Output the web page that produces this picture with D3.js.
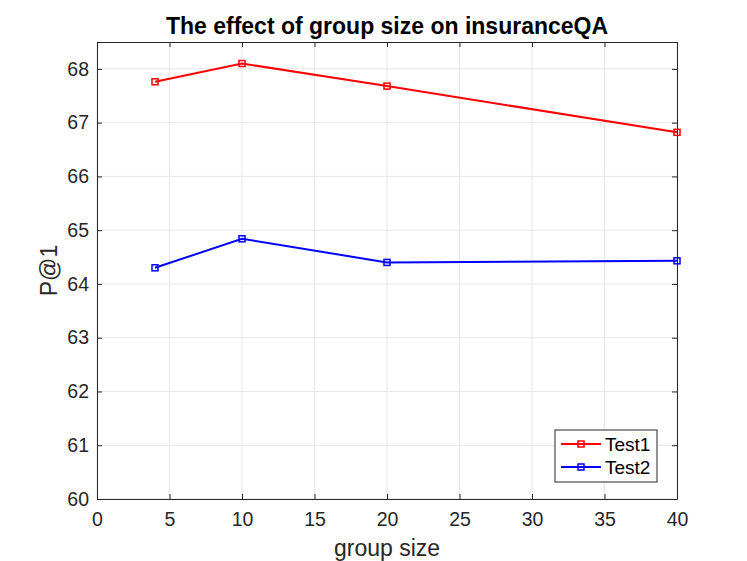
<!DOCTYPE html>
<html>
<head>
<meta charset="utf-8">
<script src="https://cdn.jsdelivr.net/npm/d3@7"></script>
<style>
  body { margin: 0; background: #fff; }
  text { font-family: "Liberation Sans", Arial, sans-serif; }
</style>
</head>
<body>
<svg id="chart" width="747" height="561"></svg>
<script>
var groupSizes = [4, 10, 20, 40];
var test1 = [67.76, 68.10, 67.68, 66.82];
var test2 = [64.30, 64.84, 64.40, 64.43];
var xTicks = [0, 5, 10, 15, 20, 25, 30, 35, 40];
var yTicks = [60, 61, 62, 63, 64, 65, 66, 67, 68];
var seriesNames = ["Test1", "Test2"];
var seriesColors = ["#ff0000", "#0000ff"];

function drawChart() {
    var svg = d3.select("#chart");
    var left = 97, right = 677, top = 42, bottom = 499;
    var axisColor = "#262626";

    var x = d3.scaleLinear().domain([0, 40]).range([left, right]);
    var y = d3.scaleLinear().domain([60, 68.5]).range([bottom, top]);

    // grid
    svg.append("g").selectAll("line").data(xTicks).enter().append("line")
        .attr("x1", function(d) { return x(d); }).attr("x2", function(d) { return x(d); })
        .attr("y1", top).attr("y2", bottom)
        .attr("stroke", "#e6e6e6").attr("stroke-width", 1);
    svg.append("g").selectAll("line").data(yTicks).enter().append("line")
        .attr("x1", left).attr("x2", right)
        .attr("y1", function(d) { return y(d); }).attr("y2", function(d) { return y(d); })
        .attr("stroke", "#e6e6e6").attr("stroke-width", 1);

    // axes
    var xAxis = d3.axisBottom(x).tickValues(xTicks).tickSizeInner(-5).tickSizeOuter(0).tickPadding(13);
    var yAxis = d3.axisLeft(y).tickValues(yTicks).tickSizeInner(-5).tickSizeOuter(0).tickPadding(8);
    var xTop = d3.axisTop(x).tickValues(xTicks).tickSizeInner(-5).tickSizeOuter(0).tickFormat("");
    var yRight = d3.axisRight(y).tickValues(yTicks).tickSizeInner(-5).tickSizeOuter(0).tickFormat("");

    var gx = svg.append("g").attr("transform", "translate(0," + bottom + ")").call(xAxis);
    var gy = svg.append("g").attr("transform", "translate(" + left + ",0)").call(yAxis);
    var gt = svg.append("g").attr("transform", "translate(0," + top + ")").call(xTop);
    var gr = svg.append("g").attr("transform", "translate(" + right + ",0)").call(yRight);

    [gx, gy, gt, gr].forEach(function(g) {
        g.selectAll("path").attr("stroke", axisColor).attr("stroke-width", 1);
        g.selectAll("line").attr("stroke", axisColor);
        g.selectAll("text").attr("fill", axisColor).style("font-size", "19.5px")
            .style("font-family", "Liberation Sans, Arial, sans-serif");
    });

    // lines
    var allSeries = [test1, test2];
    allSeries.forEach(function(vals, i) {
        var pts = groupSizes.map(function(g, j) { return [g, vals[j]]; });
        var line = d3.line().x(function(d) { return x(d[0]); }).y(function(d) { return y(d[1]); });
        svg.append("path").datum(pts).attr("d", line)
            .attr("fill", "none").attr("stroke", seriesColors[i]).attr("stroke-width", 2);
        svg.append("g").selectAll("rect").data(pts).enter().append("rect")
            .attr("x", function(d) { return x(d[0]) - 3; })
            .attr("y", function(d) { return y(d[1]) - 3; })
            .attr("width", 6).attr("height", 6)
            .attr("fill", "none").attr("stroke", seriesColors[i]).attr("stroke-width", 1.5);
    });

    // title and labels
    svg.append("text").attr("x", (left + right) / 2).attr("y", 34)
        .attr("text-anchor", "middle").style("font-size", "23px").style("font-weight", "bold")
        .text("The effect of group size on insuranceQA");
    svg.append("text").attr("x", (left + right) / 2).attr("y", 556)
        .attr("text-anchor", "middle").attr("fill", axisColor).style("font-size", "23px")
        .text("group size");
    svg.append("text").attr("transform", "translate(57," + ((top + bottom) / 2) + ") rotate(-90)")
        .attr("text-anchor", "middle").attr("fill", axisColor).style("font-size", "23px")
        .text("P@1");

    // legend
    var lg = svg.append("g").attr("transform", "translate(555,430)");
    lg.append("rect").attr("width", 102).attr("height", 52)
        .attr("fill", "#fff").attr("stroke", axisColor).attr("stroke-width", 1);
    seriesNames.forEach(function(name, i) {
        var cy = 14 + i * 23;
        lg.append("line").attr("x1", 6).attr("x2", 46).attr("y1", cy).attr("y2", cy)
            .attr("stroke", seriesColors[i]).attr("stroke-width", 2);
        lg.append("rect").attr("x", 23).attr("y", cy - 3).attr("width", 6).attr("height", 6)
            .attr("fill", "none").attr("stroke", seriesColors[i]).attr("stroke-width", 1.5);
        lg.append("text").attr("x", 50).attr("y", cy + 7).attr("fill", "#000")
            .style("font-size", "19px").text(name);
    });
}

drawChart();
</script>
</body>
</html>
